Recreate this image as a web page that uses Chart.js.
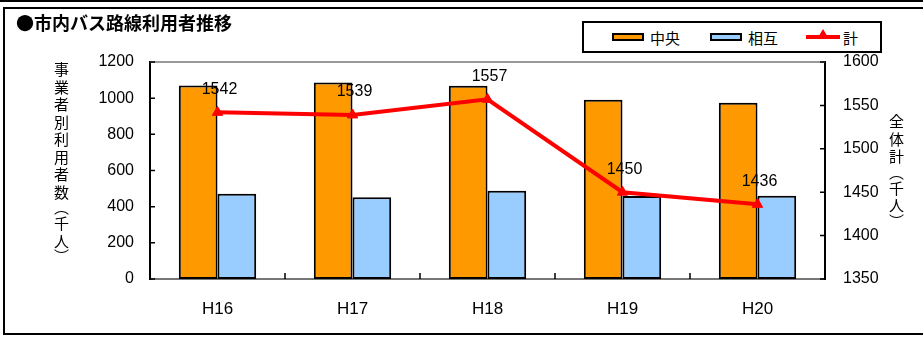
<!DOCTYPE html>
<html lang="ja">
<head>
<meta charset="utf-8">
<script src="https://cdn.jsdelivr.net/npm/chart.js@4.4.1/dist/chart.umd.min.js"></script>
<style>
  html, body { margin: 0; padding: 0; background: #fff; }
  #wrap { position: relative; width: 923px; height: 338px; overflow: hidden; font-family: "Noto Sans CJK JP", sans-serif; }
  #chart { position: absolute; left: 0; top: 0; }
  .rule { position: absolute; background: #000; }
  #title { position: absolute; left: 16px; top: 13px; font-size: 18px; line-height: 18px; font-weight: bold; color: #000; }
  .vtitle { position: absolute; writing-mode: vertical-rl; white-space: nowrap; height: 200px; font-size: 15px; line-height: 15px; letter-spacing: 2.5px; color: #000; }
  .vtitle .p { letter-spacing: 0; margin-block: 0; margin-inline: -2px 1px; }
  #legend { position: absolute; left: 582px; top: 21px; width: 296px; height: 28px; border: 2px solid #000; background: #fff; }
  .item { position: absolute; top: 0; height: 28px; display: flex; align-items: center; font-size: 15px; }
  .swatch { width: 28px; height: 4px; border: 2px solid #000; margin-right: 6px; }
  .lineswatch { position: relative; width: 34px; height: 4px; margin-right: 3px; }
  .lineswatch .tri { position: absolute; left: 11px; top: -6px; width: 0; height: 0; border-left: 6px solid transparent; border-right: 6px solid transparent; border-bottom: 10px solid; }
</style>
</head>
<body>
<div id="wrap">
  <canvas id="chart" width="923" height="338"></canvas>
  <div class="rule" style="left:0;top:0;width:923px;height:2px"></div>
  <div class="rule" style="left:3px;top:7px;width:920px;height:2px"></div>
  <div class="rule" style="left:3px;top:7px;width:2px;height:328px"></div>
  <div class="rule" style="left:3px;top:333px;width:920px;height:2px"></div>
  <div id="title">●市内バス路線利用者推移</div>
  <div class="vtitle" style="left:54px;top:62px">事業者別利用者数<span class="p">（</span>千人<span class="p">）</span></div>
  <div class="vtitle" style="left:889px;top:114px">全体計<span class="p">（</span>千人<span class="p">）</span></div>
  <div id="legend"></div>
</div>
<script>
// 年度ごとの利用者数（千人）
const years = ['H16', 'H17', 'H18', 'H19', 'H20'];
const chuo = [1070, 1087, 1069, 991, 975];
const sogo = [472, 452, 488, 459, 461];
const total = [1542, 1539, 1557, 1450, 1436];

const leftTicks = { min: 0, max: 1200, step: 200 };
const rightTicks = { min: 1350, max: 1600, step: 50 };

Chart.defaults.font.family = '"Liberation Sans", Arial, sans-serif';
Chart.defaults.color = '#000';

// 折れ線の値ラベル
const valueLabels = {
  id: 'valueLabels',
  afterDatasetsDraw(chart) {
    const ctx = chart.ctx;
    const meta = chart.getDatasetMeta(2);
    ctx.save();
    ctx.font = '16px "Liberation Sans", Arial, sans-serif';
    ctx.fillStyle = '#000';
    ctx.textAlign = 'center';
    ctx.textBaseline = 'middle';
    meta.data.forEach((pt, i) => {
      ctx.fillText(String(total[i]), pt.x + 2, pt.y - 23);
    });
    ctx.restore();
  }
};

// 内向きの目盛りと上辺の枠線
const frame = {
  id: 'frame',
  afterDraw(chart) {
    const { ctx, chartArea: a, scales } = chart;
    ctx.save();
    ctx.strokeStyle = '#999';
    ctx.lineWidth = 2;
    ctx.beginPath();
    ctx.moveTo(a.left, a.top);
    ctx.lineTo(a.right, a.top);
    ctx.stroke();

    ctx.strokeStyle = '#000';
    ctx.lineWidth = 1.5;
    ctx.beginPath();
    scales.y.ticks.forEach((t, i) => {
      const y = scales.y.getPixelForTick(i);
      ctx.moveTo(a.left, y);
      ctx.lineTo(a.left + 5, y);
    });
    scales.y1.ticks.forEach((t, i) => {
      const y = scales.y1.getPixelForTick(i);
      ctx.moveTo(a.right, y);
      ctx.lineTo(a.right - 5, y);
    });
    for (let i = 1; i < years.length; i++) {
      const x = (scales.x.getPixelForTick(i - 1) + scales.x.getPixelForTick(i)) / 2;
      ctx.moveTo(x, a.bottom);
      ctx.lineTo(x, a.bottom - 6);
    }
    ctx.stroke();
    ctx.restore();
  }
};

const plain = v => String(v);

const chart = new Chart(document.getElementById('chart'), {
  data: {
    labels: years,
    datasets: [
      {
        type: 'bar',
        label: '中央',
        data: chuo,
        yAxisID: 'y',
        backgroundColor: '#FF9900',
        borderColor: '#000',
        borderWidth: 2,
        borderSkipped: false,
        categoryPercentage: 0.573,
        barPercentage: 1,
        order: 1
      },
      {
        type: 'bar',
        label: '相互',
        data: sogo,
        yAxisID: 'y',
        backgroundColor: '#99CCFF',
        borderColor: '#000',
        borderWidth: 2,
        borderSkipped: false,
        categoryPercentage: 0.573,
        barPercentage: 1,
        order: 1
      },
      {
        type: 'line',
        label: '計',
        data: total,
        yAxisID: 'y1',
        borderColor: '#FF0000',
        backgroundColor: '#FF0000',
        borderWidth: 4,
        pointStyle: 'triangle',
        pointRadius: 6,
        pointBorderWidth: 1,
        tension: 0,
        order: 0
      }
    ]
  },
  options: {
    responsive: false,
    animation: false,
    layout: { padding: { top: 62, left: 0, right: 0, bottom: 0 } },
    plugins: {
      legend: { display: false },
      tooltip: { enabled: false }
    },
    scales: {
      x: {
        grid: { display: false, drawTicks: false },
        border: { color: '#777', width: 2 },
        ticks: { font: { size: 17 }, padding: 20 },
        afterFit: s => { s.height = 59; }
      },
      y: {
        position: 'left',
        min: leftTicks.min,
        max: leftTicks.max,
        grid: { display: false, drawTicks: false },
        border: { color: '#000', width: 2 },
        ticks: { stepSize: leftTicks.step, font: { size: 16 }, padding: 16, callback: plain },
        afterFit: s => { s.width = 150; }
      },
      y1: {
        position: 'right',
        min: rightTicks.min,
        max: rightTicks.max,
        grid: { display: false, drawTicks: false },
        border: { color: '#000', width: 2 },
        ticks: { stepSize: rightTicks.step, font: { size: 16 }, padding: 18, callback: plain },
        afterFit: s => { s.width = 98; }
      }
    }
  },
  plugins: [valueLabels, frame]
});

// 凡例はデータセットの色とラベルから作る
const legendEl = document.getElementById('legend');
const itemLeft = [28, 126, 222];
chart.data.datasets.forEach((ds, i) => {
  const item = document.createElement('div');
  item.className = 'item';
  item.style.left = itemLeft[i] + 'px';
  let sw;
  if (ds.type === 'line') {
    sw = document.createElement('div');
    sw.className = 'lineswatch';
    sw.style.background = ds.borderColor;
    const tri = document.createElement('div');
    tri.className = 'tri';
    tri.style.borderBottomColor = ds.borderColor;
    sw.appendChild(tri);
  } else {
    sw = document.createElement('div');
    sw.className = 'swatch';
    sw.style.background = ds.backgroundColor;
  }
  const txt = document.createElement('span');
  txt.textContent = ds.label;
  item.appendChild(sw);
  item.appendChild(txt);
  legendEl.appendChild(item);
});
</script>
</body>
</html>
